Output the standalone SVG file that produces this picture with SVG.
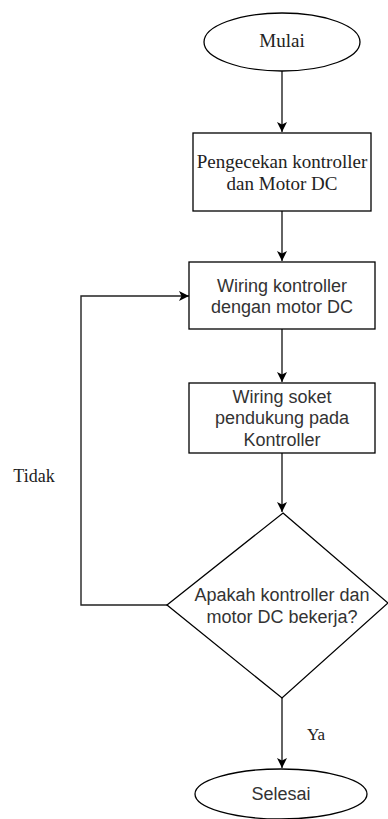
<svg xmlns="http://www.w3.org/2000/svg" width="388" height="819" viewBox="0 0 388 819">
<style>
.shape{fill:#fff;stroke:#000;stroke-width:1.3}
.edge{fill:none;stroke:#222;stroke-width:1.4}
.serif{font-family:"Liberation Serif","Times New Roman",serif;fill:#222;text-anchor:middle}
.sans{font-family:"Liberation Sans",Arial,sans-serif;font-size:18px;fill:#333;text-anchor:middle}
</style>
<defs>
<marker id="arr" viewBox="0 0 10 10" refX="10" refY="5" markerWidth="10" markerHeight="10" markerUnits="userSpaceOnUse" orient="auto">
<path d="M0,0 L10,5 L0,10 L2.5,5 Z" fill="#000"/>
</marker>
</defs>
<rect width="388" height="819" fill="#fff"/>
<g id="connectors">
<path class="edge" d="M282,71 V132" marker-end="url(#arr)"/>
<path class="edge" d="M282,211 V261" marker-end="url(#arr)"/>
<path class="edge" d="M282,329 V382" marker-end="url(#arr)"/>
<path class="edge" d="M282,453 V512" marker-end="url(#arr)"/>
<path class="edge" d="M167,605 H81 V296 H189" marker-end="url(#arr)"/>
<path class="edge" d="M282,698 V768" marker-end="url(#arr)"/>
<text class="serif" x="34" y="482" font-size="18">Tidak</text>
<text class="serif" x="316" y="740" font-size="17">Ya</text>
</g>
<g id="mulai">
<ellipse class="shape" cx="282" cy="42" rx="78" ry="29"/>
<text class="serif" x="282" y="47" font-size="19">Mulai</text>
</g>
<g id="pengecekan">
<rect class="shape" x="193" y="133" width="178" height="78"/>
<text class="serif" x="282" y="168" font-size="19">Pengecekan kontroller</text>
<text class="serif" x="282" y="190" font-size="19">dan Motor DC</text>
</g>
<g id="wiring1">
<rect class="shape" x="189" y="262" width="186" height="67"/>
<text class="sans" x="282" y="292">Wiring kontroller</text>
<text class="sans" x="282" y="313">dengan motor DC</text>
</g>
<g id="wiring2">
<rect class="shape" x="189" y="383" width="186" height="70"/>
<text class="sans" x="282" y="403">Wiring soket</text>
<text class="sans" x="282" y="424">pendukung pada</text>
<text class="sans" x="282" y="446">Kontroller</text>
</g>
<g id="keputusan">
<polygon class="shape" points="283,513 388,603 282,698 167,605"/>
<text class="sans" x="282" y="601">Apakah kontroller dan</text>
<text class="sans" x="282" y="623">motor DC bekerja?</text>
</g>
<g id="selesai">
<ellipse class="shape" cx="281" cy="794" rx="86" ry="25"/>
<text class="sans" x="281" y="800">Selesai</text>
</g>
</svg>
